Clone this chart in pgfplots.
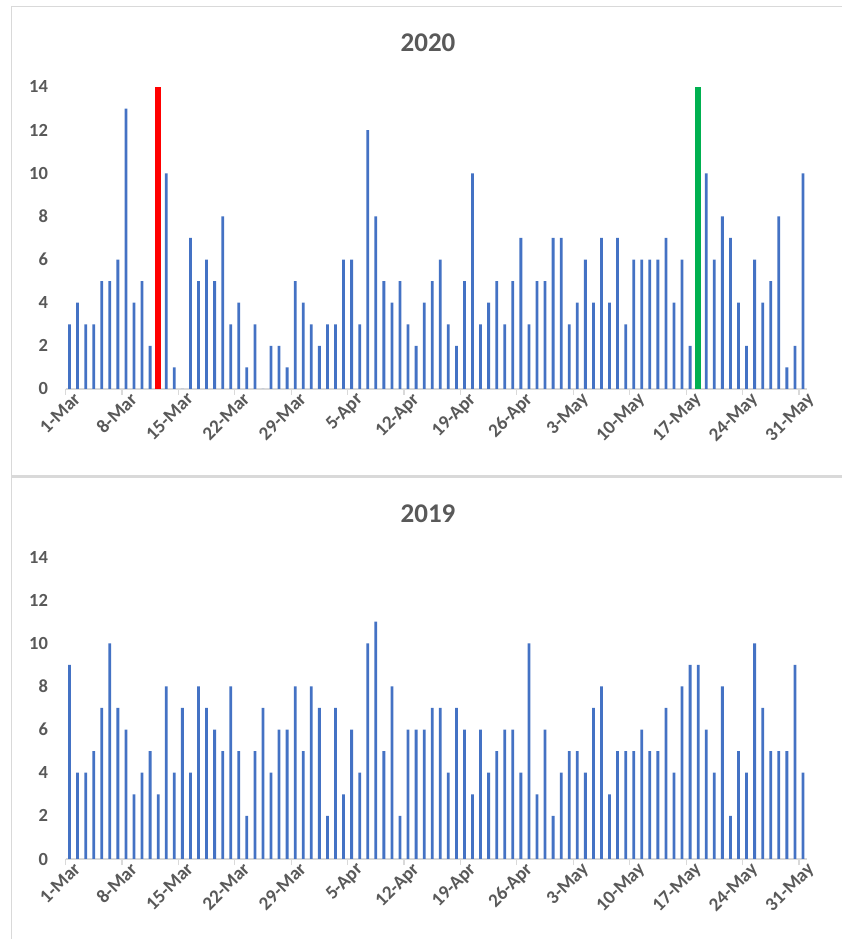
\documentclass[border=0pt]{standalone}
\usepackage{pgfplots}
\usepackage{pgfplotstable}
\pgfplotsset{compat=1.18}
\usepackage{fontspec}
\setmainfont{Carlito}
\definecolor{barblue}{HTML}{4472C4}
\definecolor{txtgray}{HTML}{595959}
\definecolor{linegray}{HTML}{D9D9D9}
\definecolor{xred}{HTML}{FF0000}
\definecolor{xgreen}{HTML}{00B050}

\pgfplotstableread{
day v20 v19
1 3 9
2 4 4
3 3 4
4 3 5
5 5 7
6 5 10
7 6 7
8 13 6
9 4 3
10 5 4
11 2 5
12 0 3
13 10 8
14 1 4
15 0 7
16 7 4
17 5 8
18 6 7
19 5 6
20 8 5
21 3 8
22 4 5
23 1 2
24 3 5
25 0 7
26 2 4
27 2 6
28 1 6
29 5 8
30 4 5
31 3 8
32 2 7
33 3 2
34 3 7
35 6 3
36 6 6
37 3 4
38 12 10
39 8 11
40 5 5
41 4 8
42 5 2
43 3 6
44 2 6
45 4 6
46 5 7
47 6 7
48 3 4
49 2 7
50 5 6
51 10 3
52 3 6
53 4 4
54 5 5
55 3 6
56 5 6
57 7 4
58 3 10
59 5 3
60 5 6
61 7 2
62 7 4
63 3 5
64 4 5
65 6 4
66 4 7
67 7 8
68 4 3
69 7 5
70 3 5
71 6 5
72 6 6
73 6 5
74 6 5
75 7 7
76 4 4
77 6 8
78 2 9
79 0 9
80 10 6
81 6 4
82 8 8
83 7 2
84 4 5
85 2 4
86 6 10
87 4 7
88 5 5
89 8 5
90 1 5
91 2 9
92 10 4
}\datatable

\pgfplotsset{
  dayaxis/.style={
    scale only axis,
    width=741.5pt, height=302pt,
    xmin=0.5, xmax=92.5, ymin=0, ymax=14,
    axis x line*=bottom, axis y line*=left,
    y axis line style={draw=none},
    x axis line style={draw=linegray, line width=1.2pt},
    ytick={0,2,...,14},
    ytick style={draw=none},
    xtick={0.5,7.5,...,91.5},
    xticklabels={1-Mar,8-Mar,15-Mar,22-Mar,29-Mar,5-Apr,12-Apr,19-Apr,26-Apr,3-May,10-May,17-May,24-May,31-May},
    xtick style={draw=linegray, line width=1.2pt},
    tick align=outside,
    major tick length=6pt,
    /pgf/number format/assume math mode=true,
    ticklabel style={font=\fontsize{18.5}{20}\selectfont\bfseries, text=txtgray},
    yticklabel style={xshift=-8pt},
    xticklabel style={font=\fontsize{19}{20}\selectfont\bfseries, rotate=45, anchor=north east, xshift=11pt, yshift=1pt},
    ybar, bar shift=0pt, bar width=2.8pt,
    clip=false,
  }
}

\begin{document}
\begin{tikzpicture}
\path[use as bounding box, fill=white] (0pt,0pt) rectangle (842pt,939pt);
% panel frames
\draw[linegray, line width=1.5pt] (11.5pt,932.5pt) rectangle (860pt,463.5pt);
\draw[linegray, line width=1.5pt] (11.5pt,462pt) rectangle (860pt,-10pt);

\node[font=\fontsize{27}{30}\selectfont\bfseries, text=txtgray] at (428pt,896pt) {2020};
\node[font=\fontsize{27}{30}\selectfont\bfseries, text=txtgray] at (428pt,425pt) {2019};

\begin{axis}[dayaxis, at={(65.5pt,550pt)}, anchor=south west]
\addplot[fill=barblue, draw=none] table[x=day, y=v20] {\datatable};
\addplot[fill=xred, draw=none, bar width=6pt] coordinates {(12,14)};
\addplot[fill=xgreen, draw=none, bar width=6pt] coordinates {(79,14)};
\end{axis}

\begin{axis}[dayaxis, at={(65.5pt,80pt)}, anchor=south west]
\addplot[fill=barblue, draw=none] table[x=day, y=v19] {\datatable};
\end{axis}
\end{tikzpicture}
\end{document}
